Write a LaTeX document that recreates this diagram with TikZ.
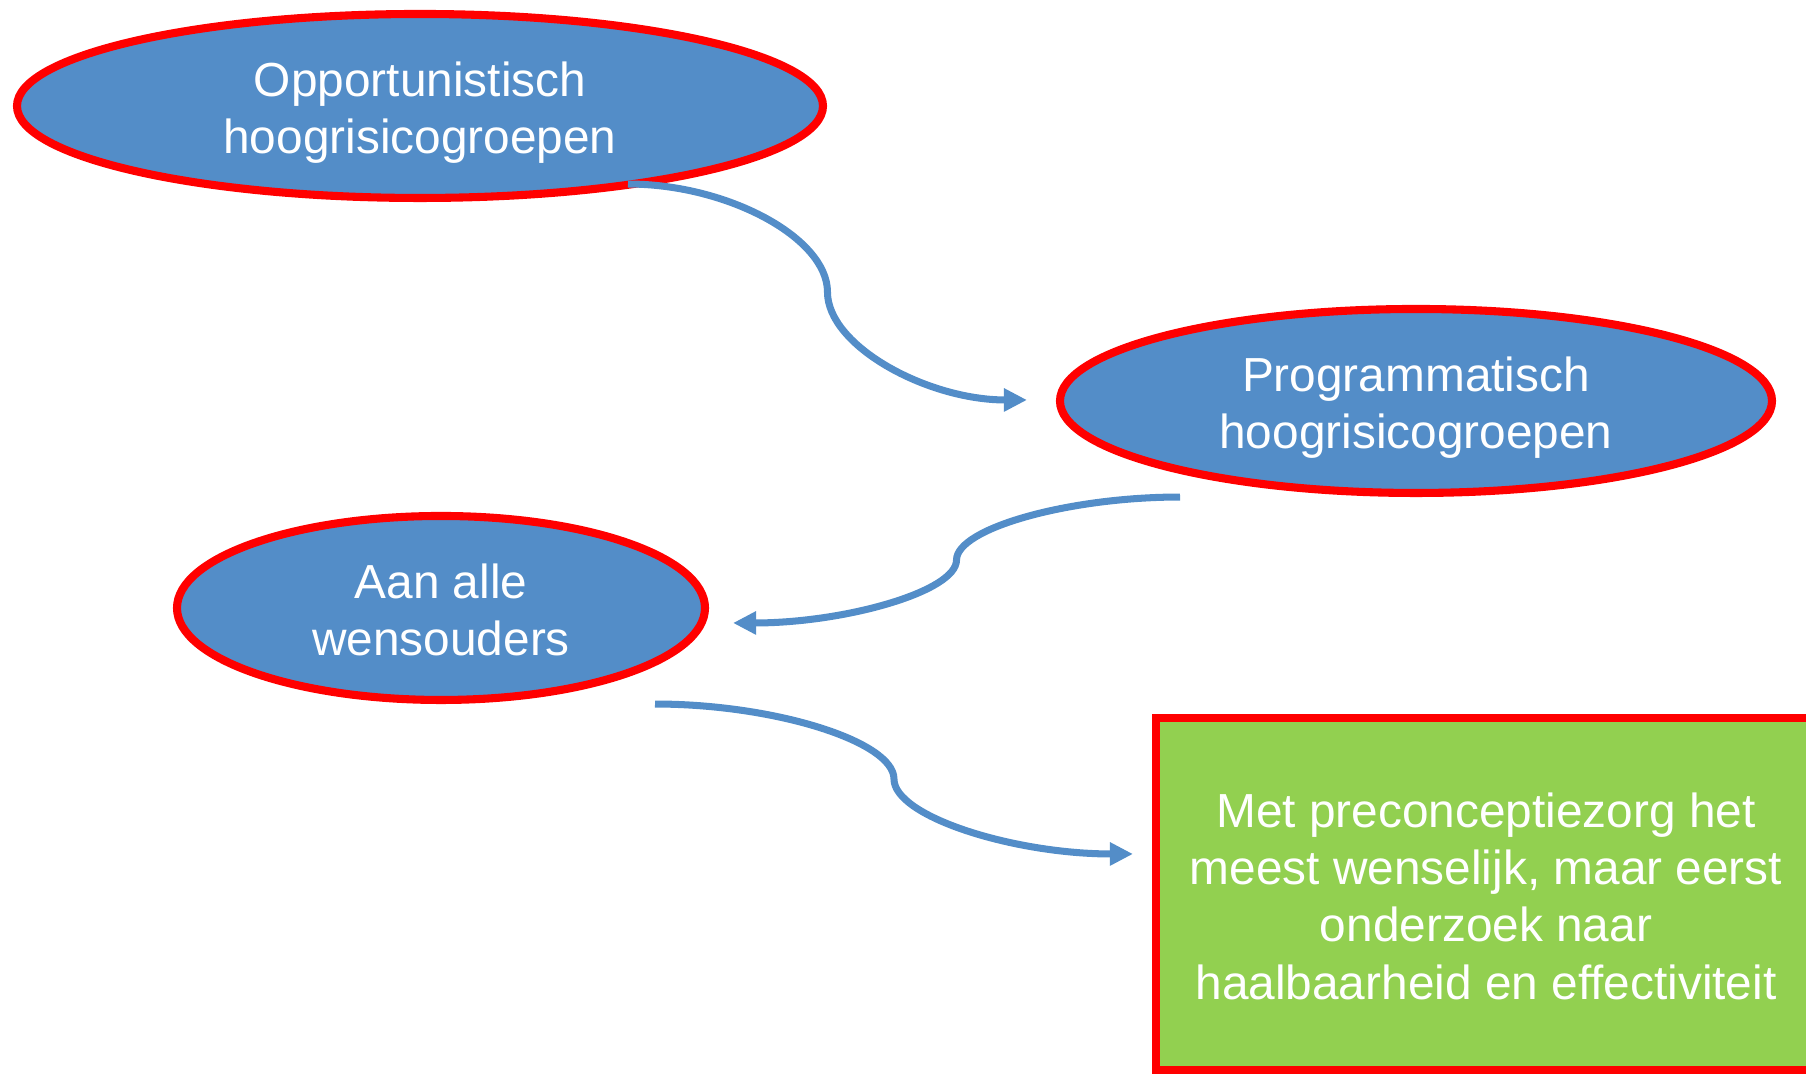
\documentclass[tikz,border=0pt]{standalone}
\usepackage{fontspec}
\setmainfont{Liberation Sans}
\usetikzlibrary{calc, arrows.meta, shapes.geometric, positioning}
\definecolor{blueb}{HTML}{538DC8}
\definecolor{rimr}{HTML}{FF0000}
\definecolor{leaf}{HTML}{92D050}
\newcommand\capstrut{\rule{0pt}{14.5pt}}
\newcommand\descstrut{\rule[-3.5pt]{0pt}{3.5pt}}
\tikzset{
  blob/.style={ellipse, draw=rimr, fill=blueb, line width=2.3pt, minimum height=1.84cm, inner sep=0pt, align=center, text=white, font=\fontsize{13.6}{16.3}\selectfont},
  card/.style={rectangle, draw=rimr, fill=leaf, line width=2.3pt, minimum width=6.6cm, minimum height=3.52cm, inner sep=0pt, align=center, text=white, font=\fontsize{13.6}{16.3}\selectfont},
  sbend/.style={to path={let \p1=(\tikztostart), \p2=(\tikztotarget) in
     .. controls ({0.75*\x1+0.25*\x2},\y1) and ({0.5*\x1+0.5*\x2},{0.75*\y1+0.25*\y2}) .. ({0.5*\x1+0.5*\x2},{0.5*\y1+0.5*\y2})
     .. controls ({0.5*\x1+0.5*\x2},{0.25*\y1+0.75*\y2}) and ({0.25*\x1+0.75*\x2},\y2) .. (\tikztotarget)}},
  flow/.style={draw=blueb, line width=2pt, -{Triangle[length=2.3mm,width=2.2mm]}, sbend}
}
\begin{document}
\begin{tikzpicture}
  \useasboundingbox (0,0) rectangle (18.06,10.75);
  \node[blob, minimum width=8.06cm] (opp) at (4.20,9.69) {\capstrut Opportunistisch\\hoogrisicogroepen\descstrut};
  \node[blob, minimum width=7.12cm] (prog) at (14.16,6.74) {\capstrut Programmatisch\\hoogrisicogroepen\descstrut};
  \node[blob, minimum width=5.28cm] (alle) at (4.41,4.67) {\capstrut Aan alle\\wensouders\descstrut};
  \node[card] (zorg) at (14.86,1.81) {\capstrut Met preconceptiezorg het\\meest wenselijk, maar eerst\\onderzoek naar\\haalbaarheid en effectiviteit\descstrut};
  \draw[flow] ([shift={(2.08,0.18)}]opp.south) to ([shift={(-0.29,0.01)}]prog.west);
  \draw[flow] ([shift={(-2.36,0)}]prog.south) to ([shift={(0.24,-0.15)}]alle.east);
  \draw[flow] ([shift={(2.14,0)}]alle.south) to ([shift={(-0.19,0.40)}]zorg.west);
\end{tikzpicture}
\end{document}
